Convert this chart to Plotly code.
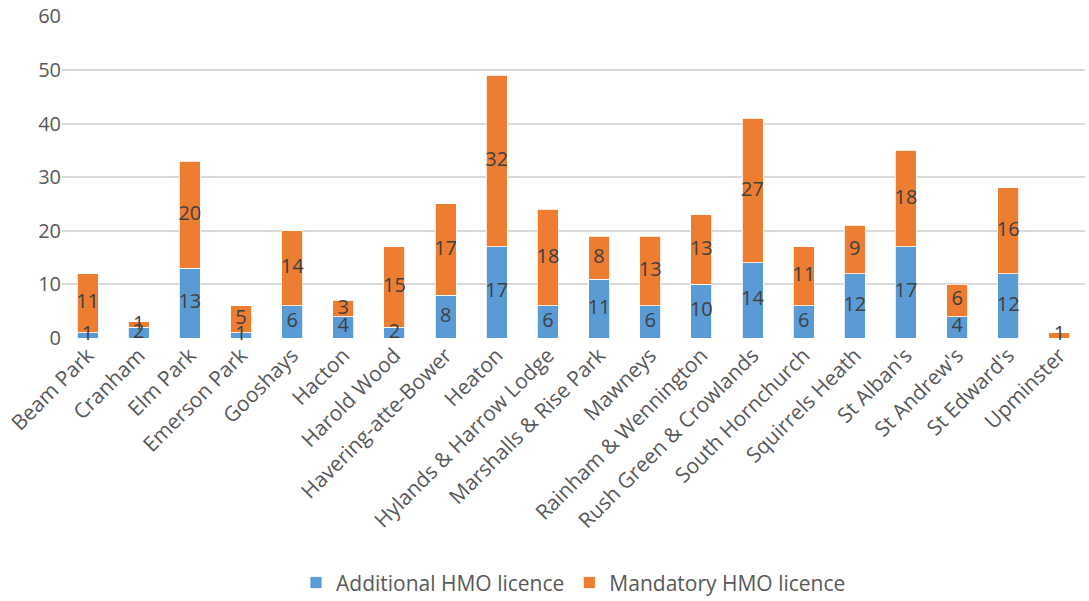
import plotly.graph_objects as go

wards = [
    "Beam Park", "Cranham", "Elm Park", "Emerson Park", "Gooshays", "Hacton",
    "Harold Wood", "Havering-atte-Bower", "Heaton", "Hylands & Harrow Lodge",
    "Marshalls & Rise Park", "Mawneys", "Rainham & Wennington",
    "Rush Green & Crowlands", "South Hornchurch", "Squirrels Heath",
    "St Alban's", "St Andrew's", "St Edward's", "Upminster",
]
additional = [1, 2, 13, 1, 6, 4, 2, 8, 17, 6, 11, 6, 10, 14, 6, 12, 17, 4, 12, None]
mandatory = [11, 1, 20, 5, 14, 3, 15, 17, 32, 18, 8, 13, 13, 27, 11, 9, 18, 6, 16, 1]

fig = go.Figure()
base = [0] * len(wards)
for name, vals, colour in [
    ("Additional HMO licence", additional, "#5B9BD5"),
    ("Mandatory HMO licence", mandatory, "#ED7D31"),
]:
    fig.add_bar(
        x=wards,
        y=vals,
        name=name,
        marker_color=colour,
        marker_line=dict(color="white", width=0.8),
    )
    # value labels centred in each segment
    mids = [(b + (v or 0) / 2) if v else None for b, v in zip(base, vals)]
    fig.add_scatter(
        x=wards,
        y=mids,
        mode="text",
        text=[("" if v is None else str(v)) for v in vals],
        textposition="middle center",
        textfont=dict(size=20, color="#404040"),
        showlegend=False,
        hoverinfo="skip",
        cliponaxis=False,
    )
    base = [b + (v or 0) for b, v in zip(base, vals)]

fig.update_layout(
    barmode="stack",
    bargap=0.59,
    width=1089,
    height=601,
    margin=dict(l=62, r=4, t=16, b=263),
    plot_bgcolor="white",
    paper_bgcolor="white",
    font=dict(family="Open Sans", color="#595959", size=19),
    legend=dict(
        orientation="h",
        x=0.5,
        xanchor="center",
        yref="container",
        y=0.03,
        yanchor="middle",
        font=dict(size=21),
        traceorder="normal",
        itemwidth=30,
    ),
    xaxis=dict(tickangle=-45, showgrid=False, ticks="", tickfont=dict(size=21),
               automargin=False, range=[-0.5, len(wards) - 0.5]),
    yaxis=dict(
        range=[0, 60.05],
        tickvals=[0, 10, 20, 30, 40, 50, 60],
        gridcolor="#D9D9D9",
        gridwidth=1.6,
        zeroline=False,
        ticks="",
        tickfont=dict(size=20),
        automargin=False,
        ticklabeloverflow="allow",
    ),
)
# drop the default page margin so the figure sits at the window's corner
fig.write_html(
    "out.html",
    config={"displayModeBar": False},
    post_script="document.body.style.margin='0';",
)
